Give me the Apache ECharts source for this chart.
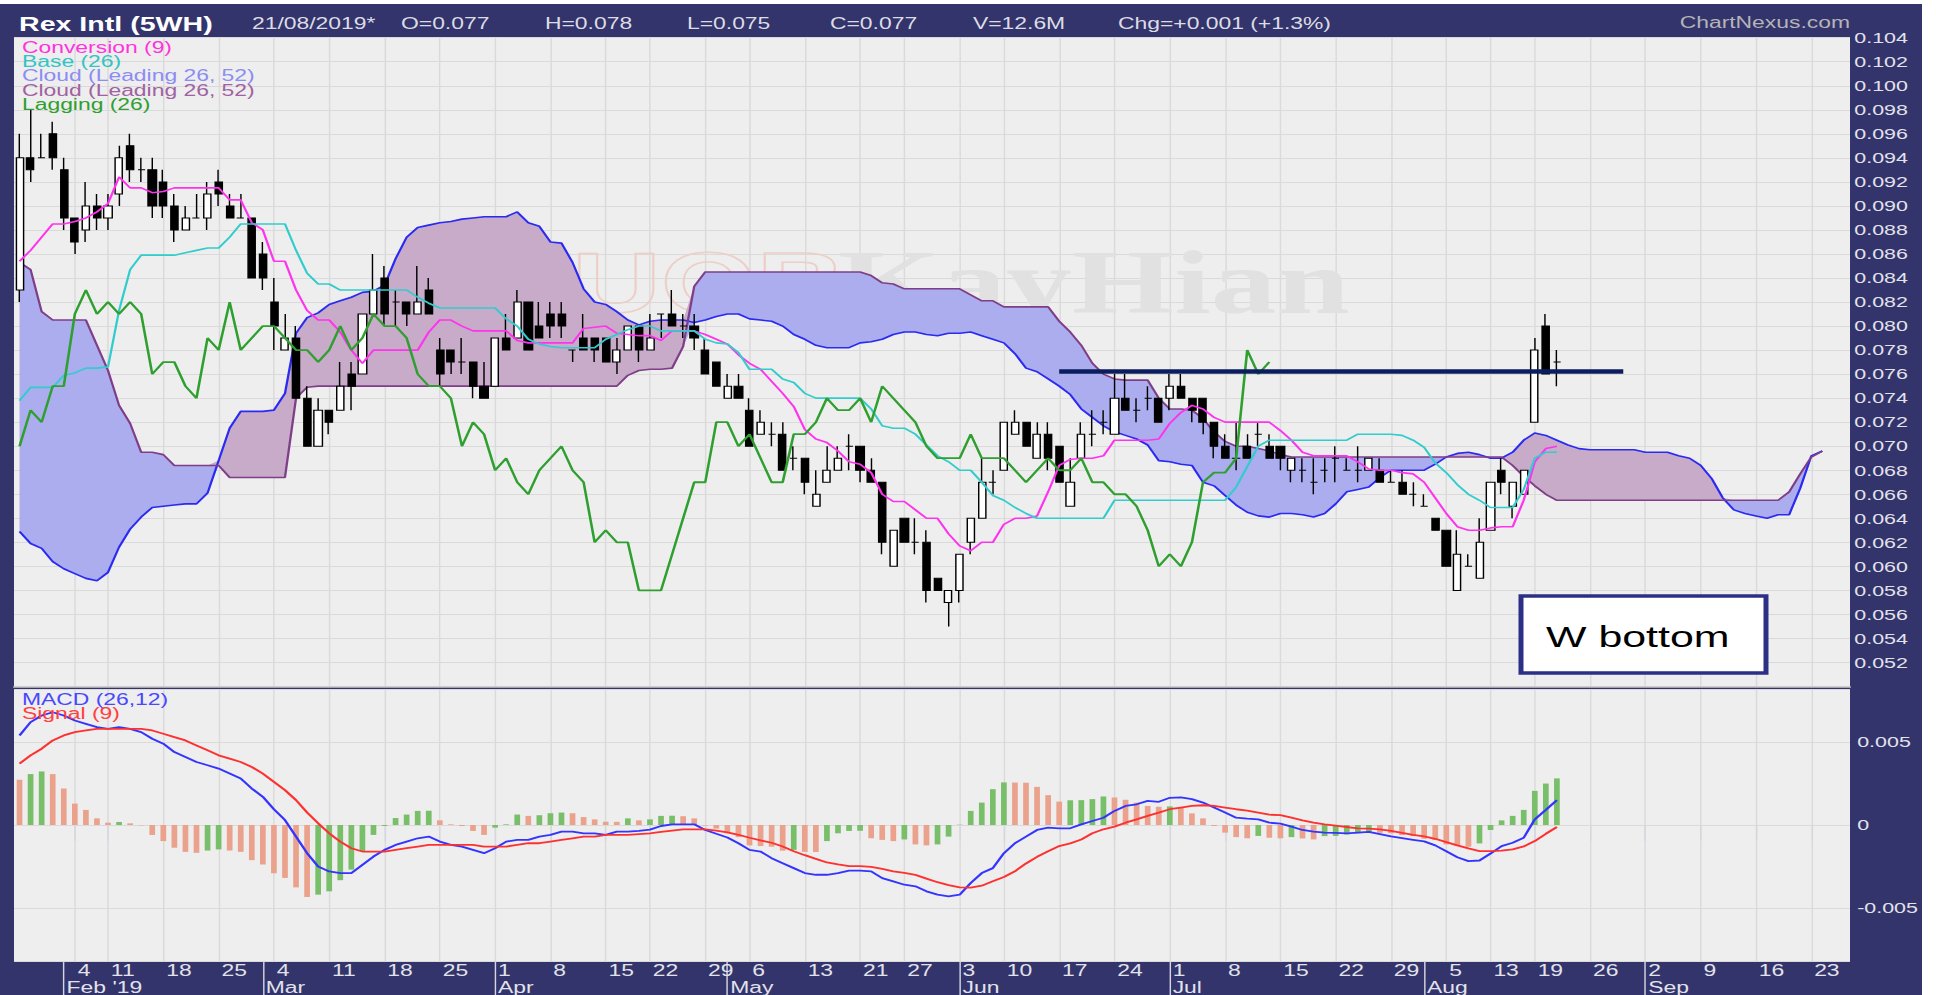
<!DOCTYPE html>
<html>
<head>
<meta charset="utf-8">
<title>Rex Intl (5WH)</title>
<script src="https://cdn.jsdelivr.net/npm/echarts@6/dist/echarts.min.js"></script>
<style>
  html, body { margin: 0; padding: 0; background: #fff; overflow: hidden; }
  /* the source picture is a narrow chart stretched wide, so draw narrow and stretch too */
  #chart { width: 1354px; height: 995px; transform: scaleX(1.42984); transform-origin: 0 0; }
</style>
</head>
<body>
<div id="chart"></div>
<script>
// trading days: weekdays from 28 Jan 2019, minus SGX holidays
const firstDay = '2019-01-28';
const dayCount = 166;
const holidays = ['2019-02-05', '2019-02-06', '2019-04-19', '2019-05-01', '2019-05-20',
  '2019-06-05', '2019-08-09', '2019-08-12'];

// [open, close, low, high]
const ohlc = [
  [0.083,0.094,0.082,0.096],[0.094,0.093,0.092,0.098],[0.094,0.094,0.094,0.096],[0.096,0.094,0.093,0.097],[0.093,0.089,0.088,0.094],
  [0.089,0.087,0.086,0.089],[0.088,0.090,0.087,0.092],[0.090,0.089,0.088,0.091],[0.089,0.090,0.088,0.091],[0.091,0.094,0.090,0.095],
  [0.095,0.093,0.092,0.096],[0.093,0.093,0.092,0.094],[0.093,0.090,0.089,0.094],[0.092,0.090,0.089,0.093],[0.090,0.088,0.087,0.091],
  [0.088,0.089,0.088,0.090],[0.089,0.089,0.089,0.091],[0.089,0.091,0.088,0.092],[0.092,0.091,0.090,0.093],[0.090,0.089,0.089,0.091],
  [0.089,0.089,0.089,0.091],[0.089,0.084,0.084,0.089],[0.086,0.084,0.083,0.087],[0.082,0.080,0.078,0.084],[0.078,0.079,0.078,0.081],
  [0.079,0.074,0.074,0.080],[0.074,0.070,0.070,0.075],[0.070,0.073,0.070,0.074],[0.073,0.072,0.071,0.073],[0.073,0.075,0.073,0.077],
  [0.076,0.075,0.073,0.077],[0.076,0.081,0.076,0.081],[0.081,0.083,0.081,0.086],[0.084,0.081,0.080,0.085],[0.082,0.082,0.080,0.083],
  [0.082,0.081,0.080,0.082],[0.081,0.082,0.081,0.085],[0.083,0.081,0.081,0.084],[0.078,0.076,0.075,0.079],[0.078,0.077,0.076,0.078],
  [0.077,0.077,0.076,0.079],[0.077,0.075,0.074,0.077],[0.075,0.074,0.074,0.077],[0.075,0.079,0.075,0.079],[0.079,0.078,0.078,0.081],
  [0.079,0.082,0.079,0.083],[0.082,0.078,0.078,0.082],[0.080,0.079,0.079,0.082],[0.081,0.080,0.079,0.082],[0.081,0.080,0.079,0.082],
  [0.078,0.078,0.077,0.078],[0.079,0.078,0.078,0.081],[0.079,0.078,0.077,0.079],[0.079,0.077,0.077,0.079],[0.077,0.078,0.076,0.079],
  [0.078,0.080,0.078,0.080],[0.080,0.078,0.077,0.080],[0.078,0.079,0.078,0.081],[0.081,0.081,0.079,0.081],[0.081,0.080,0.080,0.083],
  [0.080,0.080,0.079,0.081],[0.080,0.079,0.078,0.081],[0.078,0.076,0.076,0.079],[0.077,0.075,0.075,0.077],[0.074,0.075,0.074,0.076],
  [0.075,0.074,0.074,0.076],[0.073,0.070,0.070,0.074],[0.071,0.072,0.071,0.073],[0.071,0.071,0.070,0.072],[0.071,0.068,0.068,0.072],
  [0.069,0.069,0.068,0.070],[0.069,0.067,0.066,0.069],[0.065,0.066,0.065,0.068],[0.067,0.068,0.067,0.070],[0.068,0.069,0.068,0.070],
  [0.070,0.070,0.068,0.071],[0.070,0.068,0.067,0.070],[0.068,0.067,0.067,0.069],[0.067,0.062,0.061,0.067],[0.060,0.063,0.060,0.063],
  [0.064,0.062,0.062,0.064],[0.062,0.062,0.061,0.064],[0.062,0.058,0.057,0.063],[0.059,0.058,0.058,0.059],[0.057,0.058,0.055,0.058],
  [0.058,0.061,0.057,0.061],[0.062,0.064,0.061,0.064],[0.064,0.067,0.064,0.069],[0.067,0.067,0.066,0.068],[0.068,0.072,0.068,0.072],
  [0.071,0.072,0.071,0.073],[0.072,0.070,0.070,0.072],[0.069,0.071,0.069,0.072],[0.071,0.069,0.068,0.072],[0.070,0.067,0.067,0.070],
  [0.065,0.067,0.065,0.069],[0.069,0.071,0.069,0.072],[0.071,0.071,0.070,0.073],[0.072,0.072,0.071,0.073],[0.071,0.074,0.071,0.076],
  [0.074,0.073,0.073,0.076],[0.073,0.073,0.072,0.074],[0.074,0.074,0.073,0.075],[0.074,0.072,0.072,0.074],[0.074,0.075,0.073,0.076],
  [0.075,0.074,0.074,0.076],[0.074,0.073,0.072,0.074],[0.074,0.072,0.071,0.074],[0.072,0.070,0.069,0.072],[0.070,0.069,0.069,0.071],
  [0.069,0.069,0.068,0.072],[0.070,0.069,0.069,0.071],[0.071,0.071,0.070,0.072],[0.070,0.069,0.069,0.071],[0.070,0.069,0.068,0.070],
  [0.068,0.069,0.067,0.069],[0.068,0.068,0.067,0.069],[0.067,0.067,0.066,0.069],[0.068,0.068,0.067,0.069],[0.069,0.069,0.067,0.070],
  [0.068,0.068,0.068,0.069],[0.068,0.068,0.067,0.070],[0.068,0.069,0.068,0.069],[0.068,0.067,0.067,0.069],[0.067,0.067,0.067,0.068],
  [0.067,0.066,0.066,0.068],[0.066,0.066,0.065,0.067],[0.065,0.065,0.065,0.066],[0.064,0.063,0.063,0.064],[0.063,0.060,0.060,0.063],
  [0.058,0.061,0.058,0.063],[0.060,0.060,0.060,0.061],[0.059,0.062,0.059,0.064],[0.063,0.067,0.063,0.067],[0.068,0.067,0.066,0.069],
  [0.065,0.067,0.064,0.067],[0.066,0.068,0.066,0.068],[0.072,0.078,0.072,0.079],[0.080,0.076,0.076,0.081],[0.077,0.077,0.075,0.078]
];

const conversion = [
  0.0854,0.0863,0.0874,0.0885,0.0885,0.0887,0.0890,0.0895,0.0902,0.0924,
  0.0915,0.0915,0.0911,0.0912,0.0915,0.0915,0.0915,0.0915,0.0915,0.0905,
  0.0905,0.0886,0.0880,0.0854,0.0854,0.0830,0.0813,0.0805,0.0805,0.0795,
  0.0780,0.0769,0.0780,0.0780,0.0780,0.0780,0.0780,0.0795,0.0805,0.0805,
  0.0800,0.0796,0.0796,0.0796,0.0796,0.0788,0.0786,0.0786,0.0786,0.0786,
  0.0786,0.0798,0.0799,0.0800,0.0794,0.0793,0.0792,0.0792,0.0788,0.0796,
  0.0796,0.0796,0.0793,0.0789,0.0785,0.0776,0.0769,0.0764,0.0754,0.0744,
  0.0733,0.0714,0.0706,0.0703,0.0696,0.0687,0.0685,0.0678,0.0660,0.0654,
  0.0654,0.0647,0.0640,0.0640,0.0627,0.0617,0.0613,0.0620,0.0620,0.0635,
  0.0640,0.0640,0.0642,0.0662,0.0684,0.0689,0.0690,0.0690,0.0692,0.0705,
  0.0705,0.0705,0.0705,0.0706,0.0719,0.0728,0.0734,0.0731,0.0724,0.0720,
  0.0720,0.0720,0.0720,0.0720,0.0713,0.0705,0.0695,0.0692,0.0692,0.0692,
  0.0692,0.0687,0.0681,0.0680,0.0680,0.0678,0.0677,0.0670,0.0657,0.0644,
  0.0633,0.0630,0.0630,0.0632,0.0633,0.0633,0.0655,0.0687,0.0698,0.0700
];

const base = [
  0.0738,0.0749,0.0749,0.0749,0.0759,0.0761,0.0765,0.0765,0.0766,0.0813,
  0.0847,0.0859,0.0859,0.0859,0.0859,0.0861,0.0863,0.0865,0.0865,0.0874,
  0.0885,0.0885,0.0885,0.0885,0.0885,0.0863,0.0844,0.0835,0.0835,0.0830,
  0.0830,0.0830,0.0830,0.0830,0.0830,0.0830,0.0824,0.0819,0.0815,0.0815,
  0.0815,0.0815,0.0815,0.0815,0.0806,0.0800,0.0789,0.0785,0.0783,0.0782,
  0.0782,0.0782,0.0782,0.0789,0.0793,0.0797,0.0800,0.0800,0.0796,0.0796,
  0.0796,0.0796,0.0789,0.0786,0.0785,0.0778,0.0764,0.0764,0.0764,0.0756,
  0.0753,0.0744,0.0740,0.0740,0.0740,0.0740,0.0740,0.0731,0.0717,0.0715,
  0.0715,0.0710,0.0701,0.0692,0.0687,0.0680,0.0680,0.0670,0.0659,0.0655,
  0.0649,0.0644,0.0640,0.0640,0.0640,0.0640,0.0640,0.0640,0.0640,0.0655,
  0.0655,0.0655,0.0655,0.0655,0.0655,0.0655,0.0655,0.0655,0.0655,0.0655,
  0.0666,0.0683,0.0700,0.0705,0.0705,0.0705,0.0705,0.0705,0.0705,0.0705,
  0.0705,0.0710,0.0710,0.0710,0.0710,0.0709,0.0705,0.0699,0.0686,0.0678,
  0.0668,0.0660,0.0655,0.0649,0.0649,0.0649,0.0664,0.0690,0.0695,0.0695
];

// leading spans run 24 sessions past the last bar
const spanA = [
  0.0629,0.0619,0.0615,0.0604,0.0598,0.0594,0.0590,0.0588,0.0595,0.0616,
  0.0631,0.0641,0.0649,0.0650,0.0651,0.0652,0.0652,0.0661,0.0688,0.0715,
  0.0729,0.0729,0.0729,0.0730,0.0744,0.0794,0.0807,0.0811,0.0818,0.0821,
  0.0824,0.0828,0.0829,0.0834,0.0856,0.0874,0.0882,0.0884,0.0886,0.0887,
  0.0889,0.0890,0.0891,0.0891,0.0891,0.0895,0.0886,0.0883,0.0870,0.0869,
  0.0853,0.0831,0.0820,0.0818,0.0812,0.0805,0.0801,0.0804,0.0805,0.0805,
  0.0805,0.0803,0.0805,0.0808,0.0810,0.0810,0.0806,0.0805,0.0804,0.0800,
  0.0793,0.0789,0.0784,0.0782,0.0782,0.0782,0.0786,0.0787,0.0789,0.0793,
  0.0795,0.0795,0.0793,0.0792,0.0794,0.0794,0.0795,0.0792,0.0789,0.0786,
  0.0777,0.0765,0.0762,0.0756,0.0750,0.0743,0.0731,0.0724,0.0717,0.0712,
  0.0709,0.0706,0.0701,0.0688,0.0687,0.0685,0.0684,0.0670,0.0667,0.0659,
  0.0651,0.0645,0.0642,0.0641,0.0644,0.0644,0.0643,0.0641,0.0644,0.0652,
  0.0662,0.0664,0.0666,0.0674,0.0680,0.0680,0.0680,0.0680,0.0685,0.0691,
  0.0694,0.0695,0.0693,0.0690,0.0690,0.0695,0.0705,0.0711,0.0709,0.0705,
  0.0701,0.0698,0.0697,0.0697,0.0697,0.0697,0.0697,0.0695,0.0695,0.0695,
  0.0692,0.0690,0.0684,0.0673,0.0657,0.0647,0.0644,0.0642,0.0640,0.0643,
  0.0643,0.0665,0.0692,0.0696
];

const spanB = [
  0.0853,0.0847,0.0812,0.0805,0.0805,0.0805,0.0805,0.0784,0.0763,0.0734,
  0.0719,0.0695,0.0695,0.0693,0.0684,0.0684,0.0684,0.0684,0.0684,0.0674,
  0.0674,0.0674,0.0674,0.0674,0.0674,0.0740,0.0749,0.0750,0.0750,0.0750,
  0.0750,0.0750,0.0750,0.0750,0.0750,0.0750,0.0750,0.0750,0.0750,0.0750,
  0.0750,0.0750,0.0750,0.0750,0.0750,0.0750,0.0750,0.0750,0.0750,0.0750,
  0.0750,0.0750,0.0750,0.0750,0.0750,0.0759,0.0763,0.0764,0.0764,0.0765,
  0.0783,0.0833,0.0845,0.0845,0.0845,0.0845,0.0845,0.0845,0.0845,0.0845,
  0.0845,0.0845,0.0845,0.0845,0.0845,0.0845,0.0845,0.0842,0.0836,0.0835,
  0.0831,0.0831,0.0831,0.0831,0.0831,0.0831,0.0826,0.0821,0.0821,0.0816,
  0.0816,0.0816,0.0816,0.0816,0.0804,0.0795,0.0784,0.0769,0.0760,0.0756,
  0.0755,0.0755,0.0755,0.0740,0.0731,0.0731,0.0730,0.0723,0.0712,0.0704,
  0.0700,0.0700,0.0698,0.0696,0.0693,0.0691,0.0691,0.0691,0.0691,0.0691,
  0.0691,0.0691,0.0691,0.0691,0.0691,0.0691,0.0691,0.0691,0.0691,0.0691,
  0.0691,0.0691,0.0691,0.0691,0.0691,0.0684,0.0675,0.0667,0.0660,0.0655,
  0.0655,0.0655,0.0655,0.0655,0.0655,0.0655,0.0655,0.0655,0.0655,0.0655,
  0.0655,0.0655,0.0655,0.0655,0.0655,0.0655,0.0655,0.0655,0.0655,0.0655,
  0.0662,0.0677,0.0691,0.0696
];

// lagging span, drawn 26 sessions back
const lagging = [
  0.070,0.073,0.072,0.075,0.075,0.081,0.083,0.081,0.082,0.081,
  0.082,0.081,0.076,0.077,0.077,0.075,0.074,0.079,0.078,0.082,
  0.078,0.079,0.080,0.080,0.079,0.078,0.078,0.077,0.078,0.080,
  0.078,0.079,0.081,0.080,0.080,0.079,0.076,0.075,0.075,0.074,
  0.070,0.072,0.071,0.068,0.069,0.067,0.066,0.068,0.069,0.070,
  0.068,0.067,0.062,0.063,0.062,0.062,0.058,0.058,0.058,0.061,
  0.064,0.067,0.067,0.072,0.072,0.070,0.071,0.069,0.067,0.067,
  0.071,0.071,0.072,0.074,0.073,0.073,0.074,0.072,0.075,0.074,
  0.073,0.072,0.070,0.069,0.069,0.069,0.071,0.069,0.069,0.069,
  0.068,0.067,0.068,0.069,0.068,0.068,0.069,0.067,0.067,0.066,
  0.066,0.065,0.063,0.060,0.061,0.060,0.062,0.067,0.0678,0.0678,
  0.069,0.078,0.076,0.077
];

const macd = [
  0.0054,0.0062,0.0066,0.0068,0.0066,0.0063,0.0061,0.0059,0.0058,0.0059,
  0.0058,0.0056,0.0052,0.0049,0.0044,0.0041,0.0038,0.0036,0.0034,0.0031,
  0.0028,0.0022,0.0017,0.00095,0.0003,-0.0007,-0.0017,-0.0025,-0.0028,-0.0029,
  -0.0029,-0.0024,-0.0019,-0.0015,-0.0012,-0.0010,-0.0008,-0.0007,-0.0010,-0.0012,
  -0.0013,-0.0015,-0.0017,-0.0014,-0.0010,-0.0009,-0.0009,-0.0007,-0.0006,-0.0004,
  -0.0004,-0.0005,-0.0005,-0.0006,-0.0004,-0.0004,-0.00035,-0.00028,-0.00006,0.00004,
  0.00004,0.00004,-0.0003,-0.00053,-0.00075,-0.0011,-0.0015,-0.0016,-0.0020,-0.0023,
  -0.0026,-0.0029,-0.0030,-0.0030,-0.0029,-0.00275,-0.00275,-0.0028,-0.0032,-0.0034,
  -0.0036,-0.0037,-0.0040,-0.0042,-0.0043,-0.0042,-0.0035,-0.0029,-0.0026,-0.0017,
  -0.0011,-0.0007,-0.0003,-0.00016,-0.0002,-0.0002,0.00004,0.00024,0.00044,0.00085,
  0.00115,0.00125,0.00145,0.0014,0.00164,0.00166,0.00156,0.00135,0.00105,0.00075,
  0.00044,0.00038,0.00034,0.00014,0.00008,-0.0001,-0.0003,-0.0004,-0.00046,-0.00048,
  -0.0005,-0.00046,-0.00042,-0.00055,-0.00069,-0.00079,-0.00089,-0.00099,-0.00123,-0.00158,
  -0.00194,-0.00218,-0.00214,-0.00172,-0.00127,-0.00107,-0.00077,0.00034,0.00091,0.0015
];

const signal = [
  0.0037,0.0042,0.0046,0.0051,0.0054,0.0056,0.0057,0.0058,0.0058,0.0058,
  0.0058,0.0058,0.0057,0.0055,0.0053,0.0051,0.0048,0.0045,0.0042,0.0040,
  0.0038,0.0035,0.0031,0.0026,0.0021,0.0015,0.00075,0.0001,-0.0005,-0.0010,
  -0.0014,-0.0016,-0.0016,-0.0016,-0.0015,-0.0014,-0.0013,-0.0012,-0.0012,-0.0012,
  -0.0012,-0.0012,-0.0013,-0.0013,-0.0013,-0.0012,-0.0011,-0.0011,-0.0010,-0.0009,
  -0.0008,-0.0007,-0.0007,-0.0006,-0.0006,-0.0006,-0.00055,-0.0005,-0.00042,-0.00034,
  -0.00026,-0.00026,-0.00026,-0.00034,-0.00044,-0.00059,-0.00077,-0.00093,-0.00107,-0.0013,
  -0.00158,-0.00182,-0.00204,-0.00226,-0.00238,-0.00248,-0.00248,-0.00253,-0.00265,-0.00279,
  -0.00289,-0.00301,-0.00323,-0.00345,-0.00362,-0.00376,-0.00378,-0.00366,-0.00339,-0.00313,
  -0.00279,-0.00232,-0.00192,-0.00158,-0.00127,-0.00111,-0.00087,-0.0005,-0.00026,-0.0001,
  0.00014,0.00034,0.00055,0.00075,0.00095,0.00105,0.00115,0.00119,0.00115,0.00105,
  0.00095,0.00087,0.00075,0.00062,0.00059,0.00044,0.00028,0.00014,0.00004,-0.00004,
  -0.00012,-0.0002,-0.00022,-0.00026,-0.00036,-0.00048,-0.00059,-0.00069,-0.00083,-0.00103,
  -0.00123,-0.00141,-0.00158,-0.00158,-0.00154,-0.00147,-0.00129,-0.00097,-0.00053,-0.00012
];

const histogram = [
  0.00273,0.00307,0.00323,0.00307,0.0022,0.00129,0.00091,0.0004,0.00014,0.00018,
  0.0001,-0.00002,-0.0006,-0.00097,-0.00137,-0.00162,-0.00168,-0.00154,-0.00147,-0.00154,
  -0.00162,-0.00212,-0.00238,-0.00291,-0.00319,-0.00376,-0.00434,-0.0042,-0.004,-0.00333,
  -0.00269,-0.00158,-0.0006,-0.00006,0.00042,0.00063,0.00085,0.00086,0.00028,0.00004,
  -0.00006,-0.00036,-0.0006,-0.00016,0.00004,0.00063,0.00055,0.00059,0.00071,0.00075,
  0.00071,0.00048,0.00034,0.0002,0.00019,0.0004,0.00028,0.00034,0.00055,0.00056,
  0.00053,0.0004,-0.00003,-0.00022,-0.0005,-0.00073,-0.00123,-0.00127,-0.00131,-0.00155,
  -0.0015,-0.00162,-0.00163,-0.00097,-0.0005,-0.00036,-0.00035,-0.0008,-0.0009,-0.00097,
  -0.00087,-0.00117,-0.00123,-0.00117,-0.0007,0.00002,0.00085,0.00135,0.00216,0.00257,
  0.00256,0.00255,0.0023,0.0018,0.00141,0.00149,0.0015,0.00156,0.00172,0.00166,
  0.00152,0.00135,0.00115,0.0011,0.00112,0.00105,0.0007,0.0004,-0.00006,-0.00046,
  -0.00073,-0.0008,-0.00066,-0.00077,-0.0008,-0.00073,-0.00081,-0.00087,-0.00067,-0.00066,
  -0.00057,-0.0005,-0.00046,-0.00047,-0.0005,-0.00061,-0.00067,-0.00083,-0.00091,-0.00117,
  -0.00127,-0.00131,-0.00111,-0.0003,0.00028,0.00055,0.00091,0.00206,0.0025,0.00281
];

const resistance = 0.0762;     // hand-drawn neckline
const resistanceFrom = 94;     // session index
const resistanceTo = 144.5;

const MONTHS = ['Jan','Feb','Mar','Apr','May','Jun','Jul','Aug','Sep','Oct','Nov','Dec'];

const dates = [];
for (let d = new Date(firstDay + 'T00:00:00Z'); dates.length < dayCount; d.setUTCDate(d.getUTCDate() + 1)) {
  const wd = d.getUTCDay();
  const s = d.toISOString().slice(0, 10);
  if (wd === 0 || wd === 6 || holidays.includes(s)) continue;
  dates.push(s);
}
const weekday = s => new Date(s + 'T00:00:00Z').getUTCDay();
const isWeekStart = i => i > 0 && weekday(dates[i]) <= weekday(dates[i - 1]);
const isMonthStart = i => i > 0 && dates[i].slice(5, 7) !== dates[i - 1].slice(5, 7);
const firstMonth = dates.findIndex((d, i) => isMonthStart(i));

const S = 1.42984;            // horizontal stretch applied by CSS
const X = v => v / S;         // reference pixel -> chart pixel
const FONT = '"Liberation Sans", Arial, sans-serif';
const NAVY = '#33346b';
const GRID = '#dadada';
const LABEL = '#e2e2ea';
const GREEN = '#79bf69';
const SALMON = '#eba28c';

const cloudLow = spanA.map((a, i) => Math.min(a, spanB[i]));
const cloudBlue = spanA.map((a, i) => Math.max(spanB[i] - a, 0));
const cloudMauve = spanA.map((a, i) => Math.max(a - spanB[i], 0));

const histBars = histogram.map((v, i) => ({
  value: v,
  itemStyle: { color: i > 0 && v >= histogram[i - 1] ? GREEN : SALMON }
}));

const gridLeft = X(14), gridWidth = X(1850) - X(14);

const weekAxis = {
  type: 'category', data: dates, boundaryGap: true,
  axisLine: { show: false },
  splitLine: { show: true, interval: isWeekStart, alignWithLabel: true, lineStyle: { color: GRID, width: 1 } }
};

const text = (str, x, y, color, size, extra) => ({
  type: 'text', z: 10, silent: true,
  style: Object.assign({ text: str, x: X(x), y: y, fill: color, fontSize: size, fontFamily: FONT, verticalAlign: 'middle' }, extra || {})
});

const option = {
  animation: false,
  backgroundColor: '#ffffff',
  grid: [
    { left: gridLeft, width: gridWidth, top: 37.7, height: 648.8, show: true, backgroundColor: '#eeeeee', borderWidth: 0 },
    { left: gridLeft, width: gridWidth, top: 689, height: 272, show: true, backgroundColor: '#eeeeee', borderWidth: 0 }
  ],
  xAxis: [
    Object.assign({}, weekAxis, {
      gridIndex: 0,
      axisLine: { show: true, lineStyle: { color: '#c9c9c9', width: 1.5 } },
      axisTick: { show: false }, axisLabel: { show: false }
    }),
    Object.assign({}, weekAxis, {
      gridIndex: 1,
      axisTick: { show: true, interval: isWeekStart, alignWithLabel: true, length: 16, lineStyle: { color: '#d6d6e2' } },
      axisLabel: {
        interval: isWeekStart, formatter: v => String(+v.slice(8)),
        color: LABEL, fontSize: 16, fontFamily: FONT, align: 'left', margin: 1, padding: [0, 0, 0, 2]
      }
    }),
    {
      type: 'category', gridIndex: 1, data: dates, boundaryGap: true, position: 'bottom',
      axisLine: { show: false }, splitLine: { show: false },
      axisTick: { show: true, interval: isMonthStart, alignWithLabel: true, length: 34, lineStyle: { color: '#d6d6e2' } },
      axisLabel: {
        interval: isMonthStart,
        formatter: (v, i) => MONTHS[+v.slice(5, 7) - 1] + (i === firstMonth ? " '" + v.slice(2, 4) : ''),
        color: LABEL, fontSize: 16, fontFamily: FONT, align: 'left', margin: 18, padding: [0, 0, 0, 2]
      }
    }
  ],
  yAxis: [
    {
      type: 'value', gridIndex: 0, position: 'right', min: 0.050, max: 0.104, interval: 0.002,
      axisLine: { show: false }, axisTick: { show: false },
      axisLabel: { formatter: v => v < 0.0505 ? '' : v.toFixed(3), color: LABEL, fontSize: 15, fontFamily: FONT, margin: 3 },
      splitLine: { show: true, lineStyle: { color: GRID, width: 1 } }
    },
    {
      type: 'value', gridIndex: 1, position: 'right', min: -0.0082, max: 0.0082, splitNumber: 3,
      axisLine: { show: false }, axisTick: { show: false },
      axisLabel: {
        formatter: v => {
          const k = Math.round(v / 0.005);
          if (Math.abs(v - k * 0.005) > 1e-7) return '';
          return k === 0 ? '0' : v.toFixed(3);
        },
        color: LABEL, fontSize: 15, fontFamily: FONT, margin: 5
      },
      splitLine: { show: true, lineStyle: { color: GRID, width: 1 } }
    }
  ],
  series: [
    { type: 'line', xAxisIndex: 0, yAxisIndex: 0, stack: 'cloud', data: cloudLow, symbol: 'none', silent: true, z: 1,
      lineStyle: { opacity: 0 } },
    { type: 'line', xAxisIndex: 0, yAxisIndex: 0, stack: 'cloud', data: cloudBlue, symbol: 'none', silent: true, z: 1,
      lineStyle: { opacity: 0 }, areaStyle: { color: '#abadef', opacity: 1 } },
    { type: 'line', xAxisIndex: 0, yAxisIndex: 0, stack: 'cloud', data: cloudMauve, symbol: 'none', silent: true, z: 1,
      lineStyle: { opacity: 0 }, areaStyle: { color: '#c7abc8', opacity: 1 } },
    { name: 'Cloud A', type: 'line', xAxisIndex: 0, yAxisIndex: 0, data: spanA, symbol: 'none', silent: true, z: 2,
      lineStyle: { color: '#2a2af2', width: 1.6 } },
    { name: 'Cloud B', type: 'line', xAxisIndex: 0, yAxisIndex: 0, data: spanB, symbol: 'none', silent: true, z: 2,
      lineStyle: { color: '#7f3f88', width: 1.6 } },
    {
      name: 'Rex Intl', type: 'candlestick', xAxisIndex: 0, yAxisIndex: 0, z: 3, barWidth: X(8),
      data: ohlc,
      itemStyle: { color: '#ffffff', color0: '#000000', borderColor: '#000000', borderColor0: '#000000', borderWidth: 1 },
      markLine: {
        silent: true, symbol: 'none', label: { show: false },
        lineStyle: { color: '#0b1d5c', width: 4.5, type: 'solid' },
        data: [[{ coord: [resistanceFrom, resistance] }, { coord: [resistanceTo, resistance] }]]
      }
    },
    { name: 'Conversion (9)', type: 'line', xAxisIndex: 0, yAxisIndex: 0, data: conversion, symbol: 'none', silent: true, z: 4,
      lineStyle: { color: '#ff33ee', width: 1.6 } },
    { name: 'Base (26)', type: 'line', xAxisIndex: 0, yAxisIndex: 0, data: base, symbol: 'none', silent: true, z: 4,
      lineStyle: { color: '#33cccc', width: 1.6 } },
    { name: 'Lagging (26)', type: 'line', xAxisIndex: 0, yAxisIndex: 0, data: lagging, symbol: 'none', silent: true, z: 4,
      lineStyle: { color: '#2f9f2f', width: 1.8 } },
    { name: 'Histogram', type: 'bar', xAxisIndex: 1, yAxisIndex: 1, data: histBars, barWidth: X(5.7), silent: true, z: 2 },
    { name: 'MACD (26,12)', type: 'line', xAxisIndex: 1, yAxisIndex: 1, data: macd, symbol: 'none', silent: true, z: 3,
      lineStyle: { color: '#3434ff', width: 1.8 } },
    { name: 'Signal (9)', type: 'line', xAxisIndex: 1, yAxisIndex: 1, data: signal, symbol: 'none', silent: true, z: 3,
      lineStyle: { color: '#ff3030', width: 1.8 } }
  ],
  graphic: [
    { type: 'rect', z: -10, silent: true, shape: { x: 0, y: 4, width: X(1922), height: 991 }, style: { fill: NAVY } },
    // watermark
    { type: 'text', z: 1, silent: true, style: { text: 'UOB', x: X(572), y: 282, fontSize: 86, fontWeight: 'bold', fontFamily: FONT,
      fill: 'rgba(0,0,0,0)', stroke: '#eccfc6', lineWidth: 1.5, verticalAlign: 'middle' } },
    { type: 'text', z: 1, silent: true, style: { text: 'KayHian', x: X(838), y: 282, fontSize: 92, fontWeight: 'bold',
      fontFamily: '"Liberation Serif", "Times New Roman", serif', fill: '#e1e1e1', verticalAlign: 'middle' } },
    // header
    text('Rex Intl (5WH)', 19, 24, '#ffffff', 20, { fontWeight: 'bold' }),
    text('21/08/2019*', 252, 23, '#dcdce4', 16),
    text('O=0.077', 401, 23, '#dcdce4', 16),
    text('H=0.078', 545, 23, '#dcdce4', 16),
    text('L=0.075', 687, 23, '#dcdce4', 16),
    text('C=0.077', 830, 23, '#dcdce4', 16),
    text('V=12.6M', 973, 23, '#dcdce4', 16),
    text('Chg=+0.001 (+1.3%)', 1118, 23, '#dcdce4', 16),
    text('ChartNexus.com', 1850, 22, '#b4b4b8', 16, { align: 'right' }),
    // indicator legend
    text('Conversion (9)', 22, 47, '#ff33dd', 16),
    text('Base (26)', 22, 61.3, '#33c4c4', 16),
    text('Cloud (Leading 26, 52)', 22, 75.6, '#8c8cf4', 16),
    text('Cloud (Leading 26, 52)', 22, 89.9, '#a062a2', 16),
    text('Lagging (26)', 22, 104.2, '#2f9f2f', 16),
    text('MACD (26,12)', 22, 699, '#4848ff', 16),
    text('Signal (9)', 22, 713, '#ff4040', 16),
    // annotation
    { type: 'rect', z: 10, silent: true, shape: { x: X(1521), y: 596, width: X(1766) - X(1521), height: 77 },
      style: { fill: '#ffffff', stroke: '#2c2f86', lineWidth: 3.5 } },
    text('W bottom', 1546, 636, '#000000', 30)
  ]
};

const chart = echarts.init(document.getElementById('chart'), null, { renderer: 'svg' });
chart.setOption(option);
</script>
</body>
</html>
